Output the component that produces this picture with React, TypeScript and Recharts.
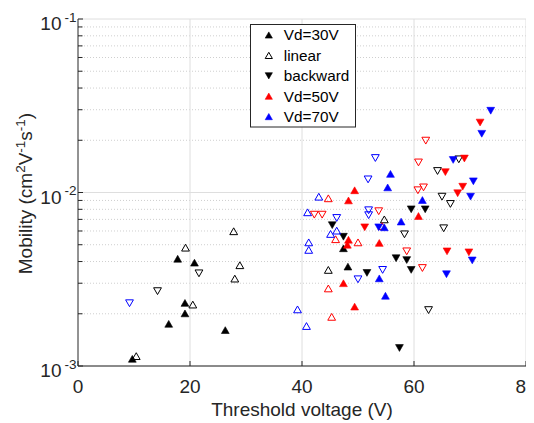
import React from 'react';
import { ScatterChart, Scatter, XAxis, YAxis, ReferenceLine, Legend, Label } from 'recharts';

type Pt = { x: number; y: number };

// ---- data (threshold voltage V, mobility cm2/Vs) ----
const vd30Forward: Pt[] = [
  { x: 17.8, y: 0.00415 }, { x: 20.8, y: 0.00394 }, { x: 19.1, y: 0.00231 }, { x: 19.1, y: 0.00201 },
  { x: 16.2, y: 0.00175 }, { x: 26.3, y: 0.00161 }, { x: 9.7, y: 0.0011 }, { x: 47.4, y: 0.00477 },
  { x: 48.2, y: 0.00374 },
];
const vd30Linear: Pt[] = [
  { x: 19.2, y: 0.00481 }, { x: 27.8, y: 0.00598 }, { x: 28.9, y: 0.00381 }, { x: 28.0, y: 0.00319 },
  { x: 20.5, y: 0.00226 }, { x: 10.4, y: 0.00114 }, { x: 54.7, y: 0.0070 }, { x: 44.7, y: 0.00358 },
];
const vd30Backward: Pt[] = [
  { x: 59.5, y: 0.0080 }, { x: 62.0, y: 0.0080 }, { x: 45.4, y: 0.00648 }, { x: 47.4, y: 0.00556 },
  { x: 56.8, y: 0.00418 }, { x: 58.7, y: 0.00408 }, { x: 59.5, y: 0.00358 }, { x: 51.6, y: 0.00344 },
  { x: 57.4, y: 0.00127 },
];
const vd30BackLinear: Pt[] = [
  { x: 21.6, y: 0.00342 }, { x: 14.2, y: 0.0027 }, { x: 68.0, y: 0.01553 }, { x: 64.2, y: 0.0133 },
  { x: 66.5, y: 0.00859 }, { x: 65.0, y: 0.00946 }, { x: 65.3, y: 0.00622 }, { x: 58.3, y: 0.00574 },
  { x: 62.6, y: 0.0021 },
];
const vd50Forward: Pt[] = [
  { x: 49.4, y: 0.0103 }, { x: 48.3, y: 0.0090 }, { x: 60.8, y: 0.00732 }, { x: 48.3, y: 0.00534 },
  { x: 48.1, y: 0.0050 }, { x: 53.8, y: 0.00512 }, { x: 47.4, y: 0.0030 }, { x: 49.4, y: 0.0022 },
];
const vd50Linear: Pt[] = [
  { x: 44.7, y: 0.00926 }, { x: 46.0, y: 0.00538 }, { x: 50.0, y: 0.00516 }, { x: 44.7, y: 0.0028 },
  { x: 45.3, y: 0.00192 }, { x: 54.3, y: 0.0064 },
];
const vd50Backward: Pt[] = [
  { x: 71.8, y: 0.0253 }, { x: 69.0, y: 0.0157 }, { x: 65.6, y: 0.0131 }, { x: 68.7, y: 0.0108 },
  { x: 67.8, y: 0.0099 }, { x: 51.2, y: 0.0063 }, { x: 65.9, y: 0.00458 }, { x: 69.8, y: 0.00452 },
];
const vd50BackLinear: Pt[] = [
  { x: 62.1, y: 0.0199 }, { x: 60.8, y: 0.0149 }, { x: 60.7, y: 0.0103 }, { x: 61.7, y: 0.0107 },
  { x: 53.7, y: 0.0078 }, { x: 42.2, y: 0.00745 }, { x: 43.6, y: 0.00745 }, { x: 58.7, y: 0.00458 },
  { x: 61.5, y: 0.00367 },
];
const vd70Forward: Pt[] = [
  { x: 55.8, y: 0.0128 }, { x: 55.3, y: 0.0107 }, { x: 61.5, y: 0.00905 }, { x: 57.7, y: 0.0068 },
  { x: 54.7, y: 0.0063 }, { x: 53.8, y: 0.0032 }, { x: 54.9, y: 0.00254 },
];
const vd70Linear: Pt[] = [
  { x: 43.0, y: 0.00946 }, { x: 41.0, y: 0.00769 }, { x: 46.2, y: 0.00603 }, { x: 45.1, y: 0.00577 },
  { x: 41.2, y: 0.00516 }, { x: 41.2, y: 0.00467 }, { x: 39.2, y: 0.00212 }, { x: 40.8, y: 0.0017 },
];
const vd70Backward: Pt[] = [
  { x: 73.7, y: 0.0296 }, { x: 72.1, y: 0.0218 }, { x: 67.0, y: 0.0154 }, { x: 70.6, y: 0.0116 },
  { x: 70.1, y: 0.00946 }, { x: 53.7, y: 0.0063 }, { x: 70.4, y: 0.00406 }, { x: 65.8, y: 0.00338 },
];
const vd70BackLinear: Pt[] = [
  { x: 53.1, y: 0.0158 }, { x: 51.8, y: 0.0119 }, { x: 51.9, y: 0.0079 }, { x: 51.9, y: 0.0074 },
  { x: 46.2, y: 0.00713 }, { x: 50.0, y: 0.00316 }, { x: 54.4, y: 0.00358 }, { x: 9.2, y: 0.0023 },
];

const X_TICKS = [0, 20, 40, 60, 80];
const X_GRID = [20, 40, 60, 80];
const Y_MAJOR = [0.001, 0.01, 0.1];
const Y_MINOR = [
  0.002, 0.003, 0.004, 0.005, 0.006, 0.007, 0.008, 0.009,
  0.02, 0.03, 0.04, 0.05, 0.06, 0.07, 0.08, 0.09,
];

const BLACK = '#000000';
const RED = '#ff0000';
const BLUE = '#0000ff';

const SERIES = [
  { name: 'Vd=30V', data: vd30Forward, color: BLACK, up: true, filled: true },
  { name: 'linear', data: vd30Linear, color: BLACK, up: true, filled: false },
  { name: 'backward', data: vd30Backward, color: BLACK, up: false, filled: true },
  { name: 'backward linear 30', data: vd30BackLinear, color: BLACK, up: false, filled: false },
  { name: 'Vd=50V', data: vd50Forward, color: RED, up: true, filled: true },
  { name: 'linear 50', data: vd50Linear, color: RED, up: true, filled: false },
  { name: 'backward 50', data: vd50Backward, color: RED, up: false, filled: true },
  { name: 'backward linear 50', data: vd50BackLinear, color: RED, up: false, filled: false },
  { name: 'Vd=70V', data: vd70Forward, color: BLUE, up: true, filled: true },
  { name: 'linear 70', data: vd70Linear, color: BLUE, up: true, filled: false },
  { name: 'backward 70', data: vd70Backward, color: BLUE, up: false, filled: true },
  { name: 'backward linear 70', data: vd70BackLinear, color: BLUE, up: false, filled: false },
];

const LEGEND = [
  { label: 'Vd=30V', color: BLACK, up: true, filled: true },
  { label: 'linear', color: BLACK, up: true, filled: false },
  { label: 'backward', color: BLACK, up: false, filled: true },
  { label: 'Vd=50V', color: RED, up: true, filled: true },
  { label: 'Vd=70V', color: BLUE, up: true, filled: true },
];

const FONT = '"Liberation Sans", Arial, Helvetica, sans-serif';
const INK = '#262626';

const triPoints = (cx: number, cy: number, up: boolean, hw: number, hh: number) =>
  up
    ? `${cx - hw},${cy + hh} ${cx + hw},${cy + hh} ${cx},${cy - hh}`
    : `${cx - hw},${cy - hh} ${cx + hw},${cy - hh} ${cx},${cy + hh}`;

const Tri = ({ cx, cy, color, up, filled, hw = 3.9, hh = 3.4 }: any) => {
  if (cx == null || cy == null) return null;
  return (
    <polygon
      points={triPoints(cx, cy, up, hw, hh)}
      fill={filled ? color : 'none'}
      stroke={color}
      strokeWidth={filled ? 0.6 : 1}
      strokeLinejoin="miter"
    />
  );
};

const XTick = (props: any) => {
  const { x, y, payload } = props;
  return (
    <g>
      <line x1={x} x2={x} y1={y} y2={y - 5} stroke={INK} strokeWidth={1} />
      <text x={x} y={y + 26.5} textAnchor="middle" fontSize={19} fontFamily={FONT} fill={INK}>
        {payload.value}
      </text>
    </g>
  );
};

const YTick = (props: any) => {
  const { x, y, payload } = props;
  const v = payload.value as number;
  const lg = Math.log10(v);
  const exp = Math.round(lg);
  const isMajor = Math.abs(lg - exp) < 1e-6;
  return (
    <g>
      <line x1={x} x2={x + (isMajor ? 5 : 4.5)} y1={y} y2={y} stroke={INK} strokeWidth={1} />
      {isMajor && (
        <g fontFamily={FONT} fill={INK}>
          <text x={x - 16.5} y={y + 11} textAnchor="end" fontSize={19}>10</text>
          <text x={x - 1.5} y={y + 2.7} textAnchor="end" fontSize={13.5}>{String(exp)}</text>
        </g>
      )}
    </g>
  );
};

const XTitle = () => (
  <text x={294} y={407.5} textAnchor="middle" fontSize={19} fontFamily={FONT} fill={INK}>
    Threshold voltage (V)
  </text>
);

const YTitle = () => {
  const cx = 24;
  const cy = 185.5;
  return (
    <text
      x={cx}
      y={cy}
      transform={`rotate(-90 ${cx} ${cy})`}
      textAnchor="middle"
      fontSize={19}
      fontFamily={FONT}
      fill={INK}
    >
      <tspan>Mobility (cm</tspan>
      <tspan fontSize={13.5} dy={-7.5}>2</tspan>
      <tspan dy={7.5}>V</tspan>
      <tspan fontSize={13.5} dy={-7.5}>-1</tspan>
      <tspan dy={7.5}>s</tspan>
      <tspan fontSize={13.5} dy={-7.5}>-1</tspan>
      <tspan dy={7.5}>)</tspan>
    </text>
  );
};

const LegendBox = () => (
  <svg width={107} height={105} style={{ display: 'block', overflow: 'visible' }}>
    <rect x={0.5} y={0.5} width={105} height={102.5} fill="#ffffff" stroke={INK} strokeWidth={1} />
    {LEGEND.map((it, i) => {
      const cy = 11 + i * 20.4;
      return (
        <g key={it.label}>
          <Tri cx={18.8} cy={cy} color={it.color} up={it.up} filled={it.filled} hw={3.6} hh={3.1} />
          <text x={33.8} y={cy + 5.4} fontSize={15.3} fontFamily={FONT} fill="#000">
            {it.label}
          </text>
        </g>
      );
    })}
  </svg>
);

export default function App() {
  return (
    <ScatterChart width={526} height={415} margin={{ top: 11, right: 8, bottom: 0, left: 0 }}>
      {Y_MINOR.map((v) => (
        <ReferenceLine key={`ym${v}`} y={v} stroke="#cfcfcf" strokeDasharray="1 2" strokeWidth={1} />
      ))}
      {Y_MAJOR.map((v) => (
        <ReferenceLine key={`yM${v}`} y={v} stroke="#dedede" strokeWidth={1} />
      ))}
      {X_GRID.map((v) => (
        <ReferenceLine key={`x${v}`} x={v} stroke="#dedede" strokeWidth={1} />
      ))}
      <XAxis
        type="number"
        dataKey="x"
        domain={[0, 80]}
        ticks={X_TICKS}
        allowDataOverflow
        height={57}
        tickSize={0}
        tickMargin={0}
        tick={<XTick />}
        axisLine={{ stroke: INK, strokeWidth: 1 }}
      >
        <Label content={<XTitle />} />
      </XAxis>
      <YAxis
        type="number"
        dataKey="y"
        scale="log"
        domain={[0.001, 0.1]}
        ticks={[...Y_MAJOR, ...Y_MINOR]}
        allowDataOverflow
        width={70}
        tickSize={0}
        tickMargin={0}
        tick={<YTick />}
        axisLine={{ stroke: INK, strokeWidth: 1 }}
        interval={0}
      >
        <Label content={<YTitle />} />
      </YAxis>
      {SERIES.map((s) => (
        <Scatter
          key={s.name}
          name={s.name}
          data={s.data}
          isAnimationActive={false}
          shape={(p: any) => <Tri cx={p.cx} cy={p.cy} color={s.color} up={s.up} filled={s.filled} />}
        />
      ))}
      <Legend
        layout="horizontal"
        verticalAlign="middle"
        align="center"
        content={() => <LegendBox />}
        wrapperStyle={{ position: 'absolute', left: 241.5, top: 16.2, width: 107, height: 105 }}
      />
    </ScatterChart>
  );
}
